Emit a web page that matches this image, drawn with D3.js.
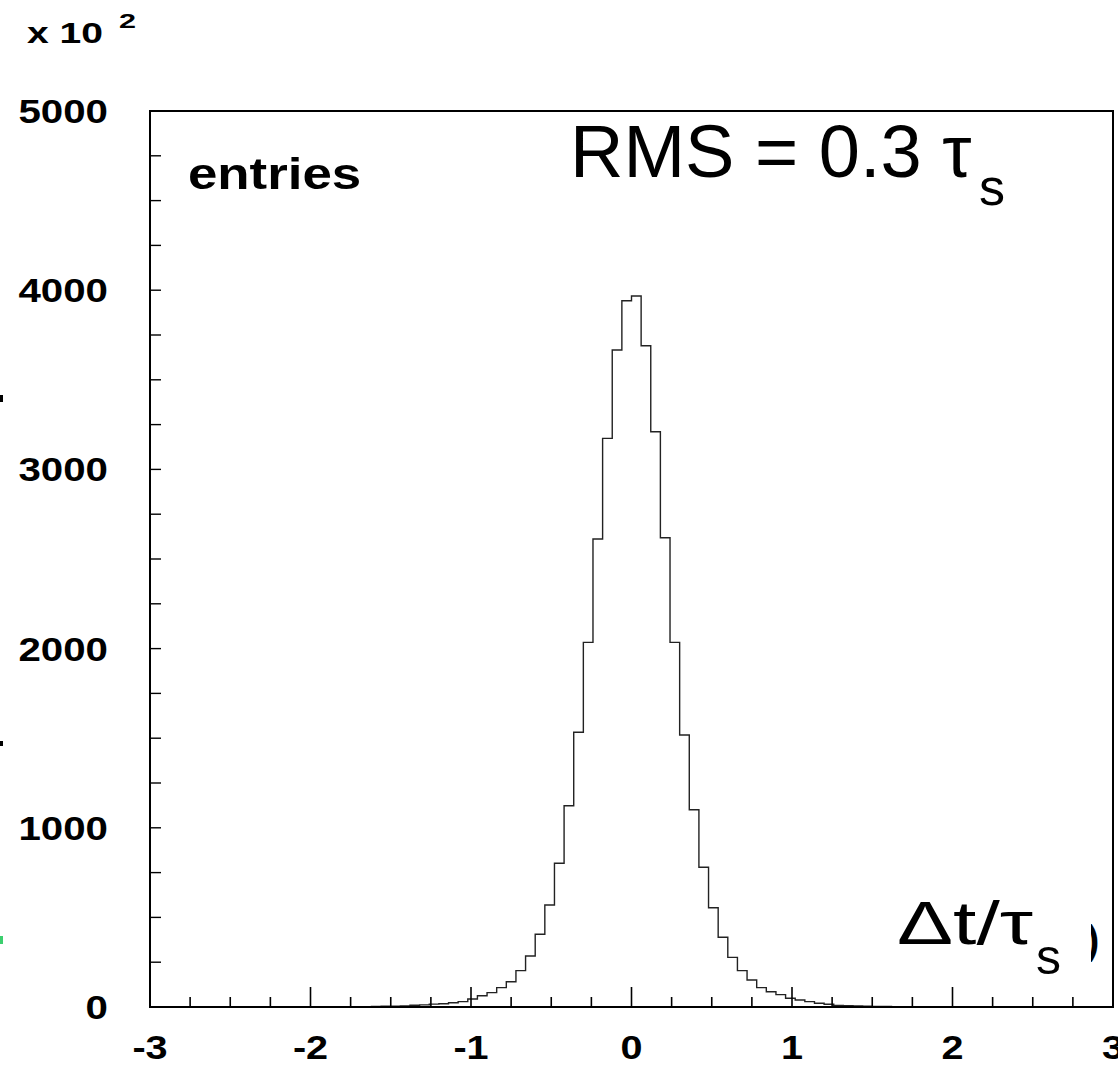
<!DOCTYPE html>
<html>
<head>
<meta charset="utf-8">
<script src="https://cdn.jsdelivr.net/npm/d3@7"></script>
<style>
  html, body { margin: 0; padding: 0; background: #fff; }
  svg { display: block; }
</style>
</head>
<body>
<div id="chart"></div>
<script>
// ---- data ----
const xMin = -3, xMax = 3, binWidth = 0.06;
// left half: bins from [-3,-2.94] up to [-0.06,0]
const leftCounts = [
  0,0,0,0,0,0,0,0,0,0,0,0,0,0,0,0,0,0,0,0,0,0,
  1,2,3,4,5,6,10,12,16,18,24,30,45,63,80,108,141,203,285,406,569,802,1123,1533,2035,2612,3173,3666,3941
];
// right half: bins from [0,0.06] up to [2.94,3]
const rightCounts = [
  3968,3690,3210,2619,2035,1518,1101,780,554,389,277,203,151,108,85,69,49,39,30,21,15,9,7,6,4,3,3,2,
  0,0,0,0,0,0,0,0,0,0,0,0,0,0,0,0,0,0,0,0,0,0
];
const xTickValues = [-3, -2, -1, 0, 1, 2, 3];
const xTickLabels = ["-3", "-2", "-1", "0", "1", "2", "3"];
const yTickValues = [0, 1000, 2000, 3000, 4000, 5000];
const yTickLabels = ["0", "1000", "2000", "3000", "4000", "5000"];

const counts = leftCounts.slice(-50).concat(rightCounts.slice(0, 50));

// ---- layout ----
const W = 1118, H = 1067;
const plot = { left: 150, right: 1113, top: 111, bottom: 1007 };

const svg = d3.select("#chart").append("svg")
  .attr("width", W).attr("height", H)
  .style("font-family", "'Liberation Sans', Arial, Helvetica, sans-serif");

const x = d3.scaleLinear().domain([xMin, xMax]).range([plot.left, plot.right]);
const y = d3.scaleLinear().domain([0, 5000]).range([plot.bottom, plot.top]);

// histogram step path
const pts = [];
counts.forEach((c, i) => {
  const x0 = xMin + i * binWidth, x1 = x0 + binWidth;
  pts.push([x(x0), y(c)], [x(x1), y(c)]);
});
pts.unshift([x(xMin), y(0)]);
pts.push([x(xMax), y(0)]);
svg.append("path")
  .attr("d", d3.line()(pts))
  .attr("fill", "none")
  .attr("stroke", "#222")
  .attr("stroke-width", 1.4);

// frame
svg.append("rect")
  .attr("x", plot.left).attr("y", plot.top)
  .attr("width", plot.right - plot.left).attr("height", plot.bottom - plot.top)
  .attr("fill", "none").attr("stroke", "#000").attr("stroke-width", 2);

// x ticks
const xMinor = d3.range(xMin, xMax + 1e-9, 0.25);
svg.append("g").selectAll("line").data(xMinor).join("line")
  .attr("x1", d => x(d)).attr("x2", d => x(d))
  .attr("y1", plot.bottom)
  .attr("y2", d => Math.abs(d - Math.round(d)) < 1e-9 ? plot.bottom - 20 : plot.bottom - 10)
  .attr("stroke", "#000").attr("stroke-width", 1.6);

// y ticks
const yMinor = d3.range(0, 5000 + 1, 250);
svg.append("g").selectAll("line").data(yMinor).join("line")
  .attr("x1", plot.left).attr("x2", plot.left + 11)
  .attr("y1", d => y(d)).attr("y2", d => y(d))
  .attr("stroke", "#000").attr("stroke-width", 1.4);

function stretch(sel, k) {
  sel.each(function () {
    const w = this.getComputedTextLength();
    d3.select(this).attr("textLength", w * k).attr("lengthAdjust", "spacingAndGlyphs");
  });
}

// x tick labels
svg.append("g").selectAll("text").data(xTickValues).join("text")
  .attr("x", d => x(d)).attr("y", 1059)
  .attr("text-anchor", "middle")
  .attr("font-weight", "bold").attr("font-size", 33)
  .text((d, i) => xTickLabels[i])
  .call(stretch, 1.2);

// y tick labels
svg.append("g").selectAll("text").data(yTickValues).join("text")
  .attr("x", 108).attr("y", d => y(d) + 12)
  .attr("text-anchor", "end")
  .attr("font-weight", "bold").attr("font-size", 33)
  .text((d, i) => yTickLabels[i])
  .call(stretch, 1.22);

// exponent label
svg.append("text").attr("x", 27).attr("y", 43)
  .attr("font-weight", "bold").attr("font-size", 30)
  .attr("textLength", 76).attr("lengthAdjust", "spacingAndGlyphs")
  .text("x 10");
svg.append("text").attr("x", 119).attr("y", 28)
  .attr("font-weight", "bold").attr("font-size", 20)
  .attr("textLength", 17).attr("lengthAdjust", "spacingAndGlyphs")
  .text("2");

// entries label
svg.append("text").attr("x", 188).attr("y", 189)
  .attr("font-weight", "bold").attr("font-size", 44)
  .text("entries").call(stretch, 1.2);

// RMS annotation
svg.append("text").attr("x", 570).attr("y", 177)
  .attr("font-size", 74)
  .text("RMS = 0.3 \u03C4");
svg.append("text").attr("x", 979).attr("y", 205)
  .attr("font-size", 52)
  .text("s");

// x axis title overlay
svg.append("text").attr("x", 897).attr("y", 944)
  .attr("font-size", 62)
  .attr("textLength", 136).attr("lengthAdjust", "spacingAndGlyphs")
  .text("\u0394t/\u03C4");
svg.append("text").attr("x", 1036).attr("y", 974)
  .attr("font-size", 50)
  .text("s");

// partially hidden parenthesis
const defs = svg.append("defs");
defs.append("clipPath").attr("id", "parclip")
  .append("rect").attr("x", 1091).attr("y", 900).attr("width", 20).attr("height", 80);
svg.append("text").attr("x", 1086).attr("y", 954)
  .attr("font-size", 40).attr("font-weight", "bold")
  .attr("clip-path", "url(#parclip)")
  .text(")");

// stray edge marks from a cut-off label
svg.append("rect").attr("x", 0).attr("y", 395).attr("width", 3).attr("height", 7).attr("fill", "#000");
svg.append("rect").attr("x", 0).attr("y", 741).attr("width", 3).attr("height", 5).attr("fill", "#000");
svg.append("rect").attr("x", 0).attr("y", 936).attr("width", 3).attr("height", 8).attr("fill", "#3ccf6e");
</script>
</body>
</html>
